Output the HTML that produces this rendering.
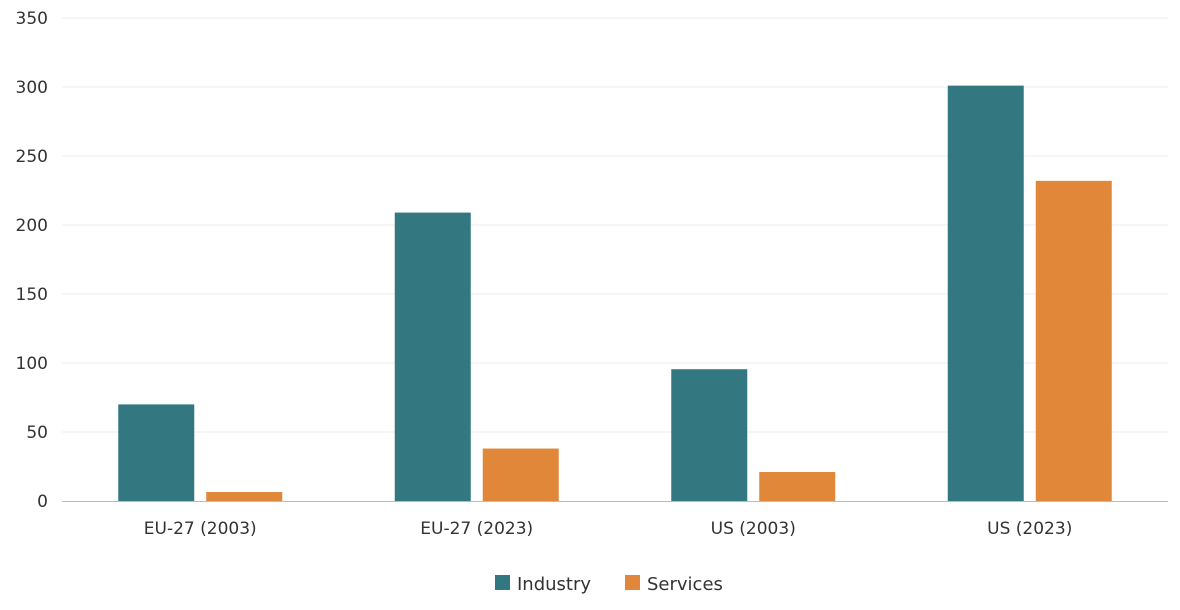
<!DOCTYPE html>
<html><head><meta charset="utf-8"><style>
html,body{margin:0;padding:0;background:#fff;}
svg{display:block;font-family:"DejaVu Sans","Liberation Sans",sans-serif;}
</style></head><body>
<svg id="chart" width="1180" height="610"></svg>
<script>
const categories=["EU-27 (2003)","EU-27 (2023)","US (2003)","US (2023)"];
const industry=[70,209,95.5,301];
const services=[6.5,38,21,232];
const yTicks=[0,50,100,150,200,250,300,350];
const svg=document.getElementById('chart');
const NS="http://www.w3.org/2000/svg";
const x0=62,x1=1168,yBase=501,yTop=18,yMax=350;
const y=v=>yBase-(v/yMax)*(yBase-yTop);
const band=(x1-x0)/categories.length;
const cx=i=>x0+band*(i+0.5);
function mk(t,a,txt){const e=document.createElementNS(NS,t);for(const k in a)e.setAttribute(k,a[k]);if(txt!==undefined)e.textContent=txt;svg.appendChild(e);return e;}
yTicks.forEach(t=>{
 if(t>0){const g=mk('line',{x1:x0,x2:x1,y1:y(t),y2:y(t),stroke:'#ececec','stroke-width':1});
 
 }
 const l=mk('text',{x:48,y:y(t)+6,'text-anchor':'end','font-size':17,fill:'#333'},t);
 
 
});
const bw=76,gap=12;
categories.forEach((c,i)=>{
 const b1=mk('rect',{x:cx(i)-gap/2-bw,y:y(industry[i]),width:bw,height:yBase-y(industry[i]),fill:'#337880'});
 
 
 const b2=mk('rect',{x:cx(i)+gap/2,y:y(services[i]),width:bw,height:yBase-y(services[i]),fill:'#E0873A'});
 
 
 const l=mk('text',{x:cx(i),y:534,'text-anchor':'middle','font-size':17,fill:'#333'},c);
 
 
});
const ax=mk('line',{x1:x0,x2:x1,y1:yBase+0.5,y2:yBase+0.5,stroke:'#bbb','stroke-width':1});


const s1=mk('rect',{x:495,y:575,width:15,height:15,fill:'#337880'});


const t1=mk('text',{x:517,y:590,'font-size':18,fill:'#333'},'Industry');


const s2=mk('rect',{x:625,y:575,width:15,height:15,fill:'#E0873A'});


const t2=mk('text',{x:647,y:590,'font-size':18,fill:'#333'},'Services');


</script>
</body></html>
